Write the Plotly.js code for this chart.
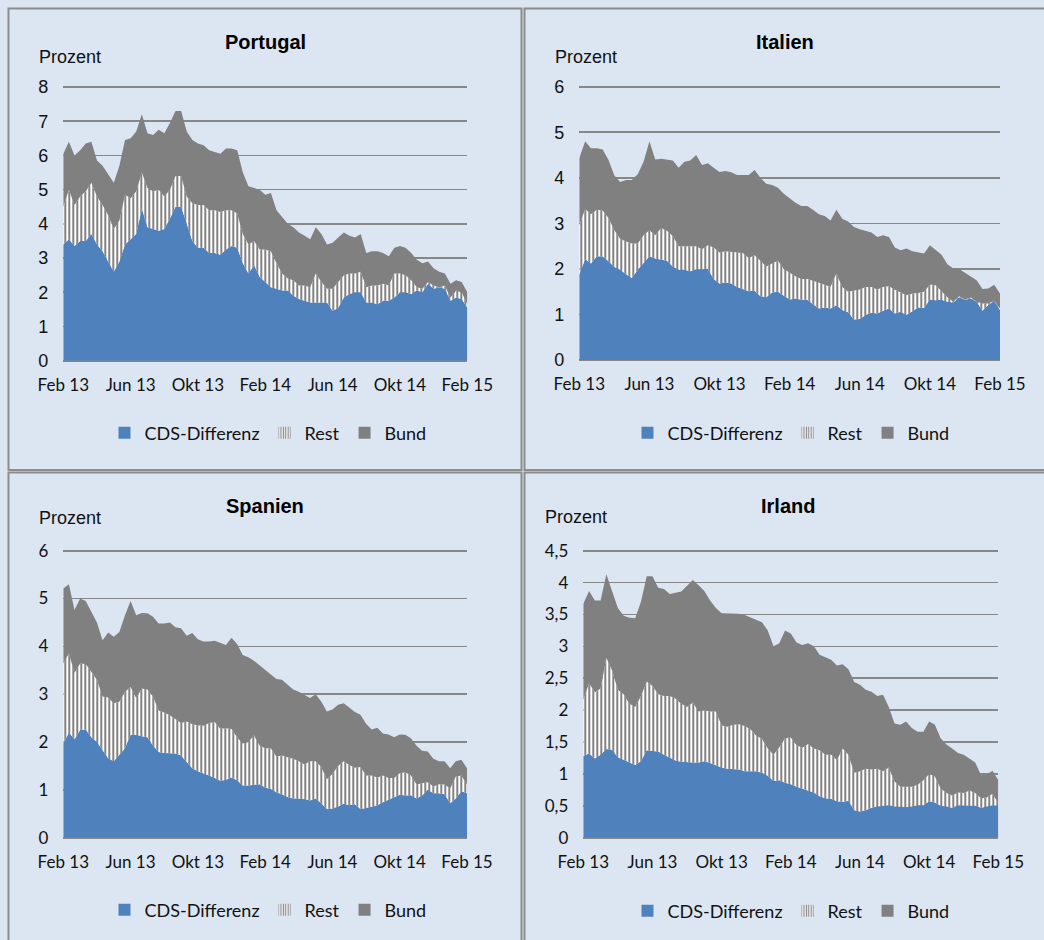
<!DOCTYPE html>
<html>
<head>
<meta charset="utf-8">
<script src="https://cdn.plot.ly/plotly-3.0.1.min.js"></script>
<style>
  body { margin: 0; background: #dce6f2; }
  #plotArea { width: 1044px; height: 940px; }
</style>
</head>
<body>
<div id="plotArea"></div>
<script>
// Renditeaufschlag gegenueber Bund, Feb 13 bis Feb 15 (alle 1/3 Monat ein Wert)
// je Land: Oberkante CDS-Differenz, Oberkante CDS + Rest, Oberkante gesamt (inkl. Bund)

var monthTicks = ["Feb 13", "Jun 13", "Okt 13", "Feb 14", "Jun 14", "Okt 14", "Feb 15"];

// Portugal
var ptCds = [3.4,3.55,3.35,3.5,3.5,3.7,3.4,3.2,2.9,2.6,
    2.9,3.4,3.55,3.7,4.45,3.9,3.85,3.8,3.85,4.15,
    4.5,4.5,4.0,3.5,3.3,3.3,3.15,3.15,3.1,3.25,
    3.35,3.3,2.85,2.55,2.8,2.45,2.3,2.15,2.1,2.05,
    2.05,1.9,1.8,1.75,1.7,1.7,1.7,1.7,1.45,1.55,
    1.85,1.95,2.0,2.0,1.7,1.7,1.65,1.75,1.75,1.85,
    2.0,2.0,1.95,2.05,2.0,2.25,2.1,2.15,2.1,1.75,
    1.85,1.8,1.55];
var ptRest = [4.5,5.0,4.55,4.8,4.95,5.2,4.8,4.55,4.25,3.85,
    4.1,4.85,4.75,4.95,5.5,5.05,4.95,5.0,4.8,5.0,
    5.4,5.4,4.8,4.6,4.55,4.55,4.4,4.4,4.35,4.4,
    4.4,4.3,3.7,3.4,3.5,3.25,3.25,3.2,2.85,2.55,
    2.4,2.35,2.2,2.2,2.15,2.55,2.3,2.1,2.1,2.3,
    2.5,2.55,2.55,2.6,2.15,2.2,2.2,2.25,2.2,2.55,
    2.55,2.5,2.35,2.15,2.1,2.3,2.2,2.15,2.2,1.85,
    2.05,2.0,1.65];
var ptBund = [6.05,6.4,6.0,6.15,6.35,6.4,5.85,5.7,5.45,5.2,
    5.7,6.45,6.5,6.7,7.2,6.65,6.6,6.75,6.65,6.95,
    7.3,7.3,6.7,6.45,6.35,6.3,6.15,6.1,6.05,6.2,
    6.2,6.15,5.5,5.1,5.05,5.0,4.85,4.9,4.4,4.2,
    4.0,3.9,3.75,3.65,3.55,3.9,3.7,3.4,3.45,3.6,
    3.75,3.65,3.6,3.7,3.15,3.2,3.2,3.15,3.05,3.3,
    3.35,3.3,3.15,2.95,2.85,2.9,2.7,2.6,2.55,2.25,
    2.35,2.3,2.0];

// Italien
var itCds = [1.87,2.22,2.12,2.28,2.27,2.17,2.04,1.98,1.88,1.8,
    1.98,2.12,2.28,2.23,2.2,2.18,2.05,1.98,1.98,1.95,
    1.99,1.99,2.0,1.78,1.68,1.7,1.68,1.6,1.55,1.51,
    1.52,1.4,1.38,1.48,1.5,1.42,1.33,1.35,1.32,1.32,
    1.22,1.13,1.15,1.13,1.2,1.1,1.05,0.89,0.9,0.99,
    1.04,1.02,1.08,1.13,1.02,1.06,0.99,1.07,1.15,1.14,
    1.33,1.31,1.32,1.28,1.26,1.38,1.32,1.35,1.28,1.08,
    1.21,1.3,1.1];
var itRest = [2.96,3.32,3.2,3.3,3.28,3.12,2.85,2.66,2.6,2.56,
    2.56,2.74,2.85,2.74,2.9,2.84,2.72,2.5,2.5,2.5,
    2.5,2.43,2.52,2.47,2.36,2.39,2.38,2.36,2.35,2.24,
    2.3,2.18,2.05,2.12,2.18,2.0,1.92,1.84,1.78,1.78,
    1.74,1.7,1.66,1.61,1.9,1.6,1.5,1.52,1.55,1.6,
    1.6,1.55,1.6,1.62,1.54,1.48,1.42,1.46,1.47,1.5,
    1.66,1.64,1.5,1.38,1.28,1.4,1.33,1.37,1.28,1.24,
    1.24,1.3,1.13];
var itBund = [4.43,4.8,4.65,4.65,4.62,4.39,4.05,3.91,3.95,3.95,
    4.08,4.35,4.8,4.4,4.42,4.4,4.38,4.22,4.35,4.38,
    4.5,4.28,4.32,4.22,4.13,4.15,4.12,4.06,4.06,4.06,
    4.17,4.0,3.87,3.84,3.78,3.65,3.55,3.45,3.38,3.38,
    3.3,3.2,3.16,3.06,3.3,3.1,3.04,2.92,2.87,2.83,
    2.8,2.7,2.74,2.7,2.47,2.41,2.45,2.39,2.36,2.34,
    2.52,2.42,2.31,2.1,2.01,2.0,1.92,1.83,1.75,1.56,
    1.57,1.65,1.46];

// Spanien
var esCds = [1.97,2.2,2.06,2.25,2.26,2.1,2.0,1.83,1.66,1.6,
    1.73,1.87,2.15,2.15,2.12,2.1,1.93,1.79,1.77,1.77,
    1.76,1.72,1.59,1.45,1.39,1.35,1.3,1.25,1.19,1.21,
    1.26,1.2,1.09,1.09,1.1,1.12,1.05,1.02,0.95,0.91,
    0.85,0.82,0.82,0.81,0.78,0.82,0.72,0.6,0.61,0.65,
    0.71,0.68,0.7,0.6,0.62,0.65,0.68,0.74,0.79,0.85,
    0.9,0.88,0.89,0.82,0.88,1.0,0.93,0.93,0.91,0.72,
    0.82,0.97,0.93];
var esRest = [3.64,3.85,3.45,3.64,3.63,3.47,3.3,2.95,2.93,2.81,
    2.84,3.05,3.15,2.92,3.12,3.1,2.95,2.66,2.62,2.56,
    2.48,2.4,2.43,2.37,2.35,2.34,2.4,2.42,2.28,2.29,
    2.27,2.1,1.97,2.0,2.14,1.93,1.87,1.87,1.7,1.72,
    1.68,1.65,1.6,1.53,1.6,1.6,1.48,1.22,1.33,1.5,
    1.6,1.52,1.46,1.48,1.3,1.3,1.26,1.3,1.25,1.25,
    1.35,1.37,1.3,1.11,1.14,1.16,1.07,1.12,1.11,1.03,
    1.28,1.3,1.11];
var esBund = [5.21,5.3,4.76,5.0,4.95,4.72,4.5,4.13,4.29,4.2,
    4.3,4.65,4.95,4.65,4.7,4.69,4.62,4.48,4.48,4.5,
    4.4,4.38,4.22,4.28,4.15,4.1,4.1,4.12,4.08,4.03,
    4.18,4.05,3.82,3.77,3.7,3.6,3.52,3.42,3.32,3.3,
    3.2,3.1,3.05,2.98,2.92,3.0,2.85,2.64,2.68,2.78,
    2.81,2.72,2.63,2.57,2.38,2.26,2.3,2.18,2.16,2.1,
    2.16,2.15,2.08,1.92,1.82,1.8,1.65,1.6,1.6,1.45,
    1.6,1.63,1.45];

// Irland
var ieCds = [1.28,1.32,1.24,1.3,1.39,1.38,1.26,1.22,1.19,1.14,
    1.2,1.37,1.36,1.35,1.3,1.25,1.21,1.19,1.18,1.18,
    1.18,1.2,1.17,1.13,1.1,1.08,1.08,1.07,1.04,1.04,
    1.04,1.02,0.97,0.89,0.9,0.86,0.84,0.8,0.77,0.75,
    0.71,0.65,0.62,0.61,0.57,0.56,0.58,0.43,0.41,0.43,
    0.47,0.49,0.5,0.51,0.49,0.48,0.48,0.49,0.51,0.51,
    0.57,0.55,0.5,0.49,0.47,0.51,0.5,0.5,0.5,0.47,
    0.49,0.51,0.5];
var ieRest = [2.16,2.42,2.28,2.34,2.82,2.62,2.32,2.25,2.1,2.05,
    2.22,2.45,2.38,2.25,2.22,2.22,2.18,2.1,2.05,2.12,
    1.98,2.0,1.98,1.98,1.76,1.74,1.77,1.78,1.75,1.7,
    1.6,1.55,1.4,1.3,1.42,1.56,1.57,1.45,1.41,1.47,
    1.4,1.37,1.3,1.3,1.22,1.4,1.3,1.02,1.04,1.08,
    1.07,1.08,1.04,1.1,0.88,0.8,0.8,0.8,0.83,0.9,
    1.0,0.96,0.77,0.7,0.66,0.71,0.7,0.74,0.7,0.62,
    0.63,0.69,0.54];
var ieBund = [3.67,3.87,3.72,3.72,4.13,3.88,3.6,3.48,3.45,3.44,
    3.7,4.1,4.1,3.92,3.9,3.82,3.84,3.86,3.95,4.04,
    3.96,3.87,3.72,3.6,3.52,3.52,3.52,3.51,3.49,3.45,
    3.42,3.38,3.25,3.0,3.05,3.25,3.2,3.06,3.02,3.05,
    3.0,2.87,2.83,2.79,2.7,2.72,2.64,2.44,2.4,2.32,
    2.29,2.22,2.24,2.05,1.79,1.77,1.82,1.72,1.66,1.66,
    1.82,1.77,1.56,1.46,1.4,1.33,1.3,1.24,1.18,0.98,
    0.99,1.05,0.9];

var W = 1044, H = 940;
function fx(p) { return p / W; }
function fy(p) { return 1 - p / H; }

var blue = "#4f81bd";
var grey = "#808080";
var txt = "#111111";
var stripes = {shape: "|", fgcolor: "#828282", bgcolor: "#ffffff", size: 4, solidity: 0.5};

// months since Feb 13
var xMonths = ptCds.map(function(v, i) { return i / 3; });

var panels = [
    {name: "Portugal", cds: ptCds, rest: ptRest, bund: ptBund, ymax: 8, dtick: 1, tickFont: "Liberation Sans",
     box: [63.3, 467.3, 87, 360.7], title: [265, 42], unit: [37, 57], legend: [268, 433]},
    {name: "Italien", cds: itCds, rest: itRest, bund: itBund, ymax: 6, dtick: 1, tickFont: "Liberation Sans",
     box: [579.3, 1000, 86.7, 360], title: [785, 42], unit: [553, 57], legend: [791, 433]},
    {name: "Spanien", cds: esCds, rest: esRest, bund: esBund, ymax: 6, dtick: 1, tickFont: "Lato",
     box: [63.3, 467, 550.7, 837.7], title: [265, 506], unit: [37, 518], legend: [268, 910]},
    {name: "Irland", cds: ieCds, rest: ieRest, bund: ieBund, ymax: 4.5, dtick: 0.5, tickFont: "Lato",
     box: [583.3, 998.3, 550.7, 837.7], title: [788, 506], unit: [543, 517], legend: [791, 911]}
];

var data = [];
var layout = {
    width: W, height: H,
    margin: {l: 0, r: 0, t: 0, b: 0},
    paper_bgcolor: "#dce6f2",
    plot_bgcolor: "rgba(0,0,0,0)",
    separators: ",.",
    showlegend: true,
    annotations: [],
    shapes: []
};

panels.forEach(function(p, k) {
    var n = k === 0 ? "" : String(k + 1);
    var xa = "x" + n, ya = "y" + n;
    var lg = "legend" + n;

    data.push({x: xMonths, y: p.cds, xaxis: xa, yaxis: ya, type: "scatter", mode: "lines",
        line: {width: 0}, fill: "tozeroy", fillcolor: blue, showlegend: false, hoverinfo: "skip"});
    data.push({x: xMonths, y: p.rest, xaxis: xa, yaxis: ya, type: "scatter", mode: "lines",
        line: {width: 0}, fill: "tonexty", fillcolor: "#ffffff", fillpattern: stripes,
        showlegend: false, hoverinfo: "skip"});
    data.push({x: xMonths, y: p.bund, xaxis: xa, yaxis: ya, type: "scatter", mode: "lines",
        line: {width: 0}, fill: "tonexty", fillcolor: grey, showlegend: false, hoverinfo: "skip"});

    // legend entries with square swatches
    data.push({x: [null], y: [null], xaxis: xa, yaxis: ya, type: "bar", name: "CDS-Differenz",
        marker: {color: blue}, legend: lg});
    data.push({x: [null], y: [null], xaxis: xa, yaxis: ya, type: "bar", name: "Rest",
        marker: {color: "#ffffff", pattern: {shape: "|", fgcolor: "#828282", bgcolor: "#ffffff", size: 3, solidity: 0.5}},
        legend: lg});
    data.push({x: [null], y: [null], xaxis: xa, yaxis: ya, type: "bar", name: "Bund",
        marker: {color: grey}, legend: lg});

    var yTicks = [], yText = [];
    for (var v = 0; v <= p.ymax + 1e-9; v += p.dtick) {
        yTicks.push(v);
        yText.push(String(Math.round(v * 10) / 10).replace(".", ","));
    }

    // a few pixels of headroom so the top gridline is drawn
    var pxPerUnit = (p.box[3] - p.box[2]) / p.ymax;
    var padPx = 4;
    var pad = padPx / pxPerUnit;

    layout["xaxis" + n] = {
        domain: [fx(p.box[0]), fx(p.box[1])], anchor: ya, range: [0, 24],
        tickvals: [0, 4, 8, 12, 16, 20, 24], ticktext: monthTicks,
        showgrid: false, zeroline: false, showline: false, ticks: "",
        ticklabelstandoff: 12, fixedrange: true,
        tickfont: {family: "Lato, sans-serif", size: 17, color: txt}
    };
    layout["yaxis" + n] = {
        domain: [fy(p.box[3]), fy(p.box[2] - padPx)], anchor: xa, range: [0, p.ymax + pad],
        tickvals: yTicks, ticktext: yText,
        showgrid: true, gridcolor: "#878787", gridwidth: 1.6,
        zeroline: true, zerolinecolor: "#878787", zerolinewidth: 2,
        showline: false, ticks: "", ticklabelstandoff: 14, fixedrange: true,
        tickfont: {family: p.tickFont + ", sans-serif", size: p.tickFont === "Lato" ? 17 : 18, color: txt}
    };
    layout[lg] = {
        orientation: "h", x: fx(p.legend[0]), y: fy(p.legend[1]),
        xanchor: "center", yanchor: "middle", bgcolor: "rgba(0,0,0,0)",
        font: {family: "Lato, sans-serif", size: 18, color: txt}, traceorder: "normal"
    };

    layout.annotations.push({
        xref: "paper", yref: "paper", x: fx(p.title[0]), y: fy(p.title[1]),
        xanchor: "center", yanchor: "middle", showarrow: false, text: "<b>" + p.name + "</b>",
        font: {family: "Liberation Sans, Arial, sans-serif", size: 20, color: "#000000"}
    });
    layout.annotations.push({
        xref: "paper", yref: "paper", x: fx(p.unit[0]), y: fy(p.unit[1]),
        xanchor: "left", yanchor: "middle", showarrow: false, text: "Prozent",
        font: {family: "Liberation Sans, Arial, sans-serif", size: 18, color: txt}
    });
});

// Rahmen der vier Felder
var frames = [[8.5, 521.5, 8.5, 470], [524.5, 1060, 8.5, 470], [8.5, 521.5, 472.5, 960], [524.5, 1060, 472.5, 960]];
frames.forEach(function(f) {
    layout.shapes.push({type: "rect", xref: "paper", yref: "paper", layer: "below",
        x0: fx(f[0]), x1: fx(f[1]), y0: fy(f[3]), y1: fy(f[2]),
        line: {color: "#8c8c8c", width: 2}, fillcolor: "rgba(0,0,0,0)"});
});

Plotly.newPlot("plotArea", data, layout, {staticPlot: true});
</script>
</body>
</html>
